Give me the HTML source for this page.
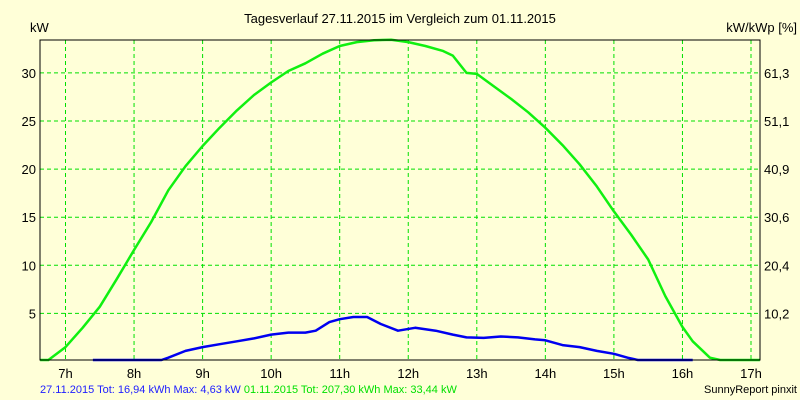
<!DOCTYPE html>
<html><head><meta charset="utf-8"><style>
body{margin:0;background:#ffffd8;}
svg{display:block;font-family:"Liberation Sans",sans-serif;}
</style></head><body>
<svg id="chart" width="800" height="400">
<rect width="800" height="400" fill="#ffffd8"/>
<text x="400" y="23" text-anchor="middle" font-size="13" fill="#000">Tagesverlauf 27.11.2015 im Vergleich zum 01.11.2015</text>
<text x="30" y="32" font-size="13" fill="#000">kW</text>
<text x="797" y="32" text-anchor="end" font-size="13" fill="#000">kW/kWp [%]</text>
<g id="grid"></g>
<g id="lines"></g>
<rect x="40" y="40" width="720" height="320" fill="none" stroke="#000" stroke-width="1"/>
<g id="labels"></g>
<text x="40" y="393" font-size="11" fill="#2020ff">27.11.2015 Tot: 16,94 kWh Max: 4,63 kW <tspan fill="#00e000">01.11.2015 Tot: 207,30 kWh Max: 33,44 kW</tspan></text>
<text x="797" y="393" text-anchor="end" font-size="11" fill="#000">SunnyReport pinxit</text>
</svg>
<script>
const hours=[7,8,9,10,11,12,13,14,15,16,17];
const yTicks=[5,10,15,20,25,30];
const rightTicks=["10,2","20,4","30,6","40,9","51,1","61,3"];
const greenT=[6.63,6.75,7.0,7.25,7.5,7.75,8.0,8.25,8.5,8.75,9.0,9.25,9.5,9.75,10.0,10.25,10.5,10.75,11.0,11.25,11.5,11.75,12.0,12.25,12.5,12.65,12.85,13.0,13.25,13.5,13.75,14.0,14.25,14.5,14.75,15.0,15.25,15.5,15.75,16.0,16.15,16.4,16.55,17.13];
const greenV=[0,0,1.5,3.5,5.7,8.6,11.6,14.5,17.8,20.3,22.4,24.3,26.1,27.7,29.0,30.2,31.0,32.0,32.8,33.2,33.4,33.44,33.2,32.8,32.3,31.8,30.0,29.9,28.6,27.3,25.9,24.3,22.5,20.5,18.2,15.6,13.2,10.6,6.8,3.6,2.1,0.4,0,0];
const blueT=[7.4,8.4,8.5,8.75,9.0,9.25,9.5,9.75,10.0,10.25,10.5,10.65,10.85,11.0,11.2,11.4,11.6,11.85,12.1,12.4,12.65,12.85,13.1,13.35,13.6,13.85,14.0,14.25,14.5,14.75,15.0,15.2,15.35,16.15];
const blueV=[0,0,0.4,1.1,1.5,1.8,2.1,2.4,2.8,3.0,3.0,3.2,4.1,4.4,4.63,4.63,3.9,3.2,3.5,3.2,2.8,2.5,2.45,2.6,2.5,2.3,2.2,1.7,1.5,1.1,0.8,0.4,0,0];
const NS="http://www.w3.org/2000/svg";
const xS=t=>65.5+(t-7)*68.55;
const yS=v=>361.5-v*9.62;
const grid=document.getElementById('grid'),labels=document.getElementById('labels'),lines=document.getElementById('lines');
function mk(tag,attrs,parent){const e=document.createElementNS(NS,tag);for(const k in attrs)e.setAttribute(k,attrs[k]);parent.appendChild(e);return e;}
hours.forEach(h=>{
  const l=mk('line',{x1:xS(h),x2:xS(h),y1:40,y2:360,stroke:'#00e000','stroke-dasharray':'4,3'},grid);
  
  
  const t=mk('text',{x:xS(h),y:378,'text-anchor':'middle','font-size':'13',fill:'#000'},labels);
  t.textContent=h+'h';
  
  
});
yTicks.forEach((v,i)=>{
  const l=mk('line',{x1:40,x2:760,y1:yS(v),y2:yS(v),stroke:'#00e000','stroke-dasharray':'4,3'},grid);
  
  
  const t=mk('text',{x:36,y:yS(v)+5,'text-anchor':'end','font-size':'13',fill:'#000'},labels);
  t.textContent=v;
  
  
  const r=mk('text',{x:764,y:yS(v)+5,'font-size':'13',fill:'#000'},labels);
  r.textContent=rightTicks[i];
  
  
});
function path(ts,vs,col,name){
  const d=ts.map((t,i)=>(i?'L':'M')+xS(t).toFixed(1)+','+Math.min(yS(vs[i]),360).toFixed(1)).join('');
  const p=mk('path',{d:d,fill:'none',stroke:col,'stroke-width':'2.5','stroke-linejoin':'round'},lines);
  
  
}
path(greenT,greenV,'#10f010','series-01-11-2015');
path(blueT,blueV,'#0000f0','series-27-11-2015');
</script>
</body></html>
